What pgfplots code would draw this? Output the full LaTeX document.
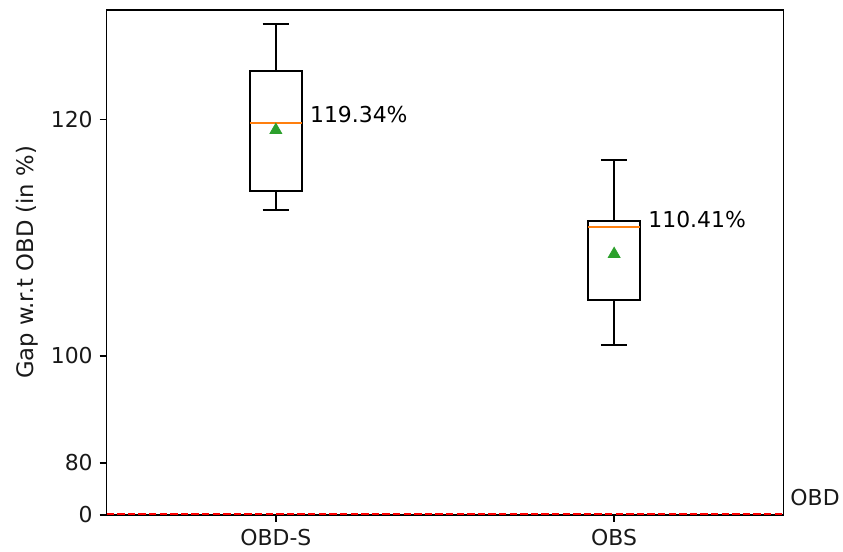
\documentclass[border=0pt]{standalone}
\usepackage{fontspec}
\setmainfont{DejaVu Sans}
\usepackage{pgfplots}
\pgfplotsset{compat=1.18}
\usepgfplotslibrary{statistics}
\usetikzlibrary{calc}

\definecolor{mplorange}{HTML}{FF7F0E}
\definecolor{mplgreen}{HTML}{2CA02C}

\begin{document}
\begin{tikzpicture}
	\begin{axis}[
			name=ax,
			scale only axis,
			width=338.3bp, height=252.5bp,
			xmin=0.5, xmax=2.5,
			ymin=0, ymax=126.0,
			clip mode=individual,
			% power-5 scale of the y axis
			y coord trafo/.code={\pgfmathparse{(#1/100)^5}},
			xtick={1,2}, xticklabels={OBD-S,OBS},
			ytick={0,80,100,120}, yticklabels={0,80,100,120},
			tick align=outside, tick pos=left,
			major tick length=3.5bp,
			tick style={black, line width=0.8bp},
			axis line style={line width=0.8bp},
			tick label style={font=\fontsize{11}{13}\selectfont, text=black!90},
			ylabel={Gap w.r.t OBD (in \%)},
			ylabel style={font=\fontsize{11.4}{13}\selectfont, text=black!90, at={(rel axis cs:-0.1178,0.5)}, anchor=center},
			boxplot/draw direction=y,
			boxplot/box extend=0.153,
			boxplot/whisker extend=0.078,
			boxplot/every median/.style={draw=mplorange, line width=1bp},
			boxplot/draw/average/.code={},
		]

		% OBD-S
		\addplot[black, line width=1bp, boxplot prepared={
				draw position=1,
				lower whisker=113.9, lower quartile=115.3,
				median=119.8, average=119.34,
				upper quartile=122.8, upper whisker=125.3
			}] coordinates {};

		% OBS
		\addplot[black, line width=1bp, boxplot prepared={
				draw position=2,
				lower whisker=101.3, lower quartile=106.2,
				median=112.6, average=110.41,
				upper quartile=113.1, upper whisker=117.4
			}] coordinates {};

		% means
		\addplot[only marks, mark=triangle*, mark size=3.4bp, mplgreen] coordinates {(1,119.34) (2,110.41)};

		% OBD reference
		\addplot[red, line width=1.6bp, dash pattern=on 3.7bp off 1.6bp] coordinates {(0.5,0) (2.5,0)};

		\node[anchor=base west, inner sep=0pt, font=\fontsize{11}{13}\selectfont] at (axis cs:1.1,119.8) {119.34\%};
		\node[anchor=base west, inner sep=0pt, font=\fontsize{11}{13}\selectfont] at (axis cs:2.1,112.6) {110.41\%};
		\node[anchor=base west, inner sep=0pt, font=\fontsize{11}{13}\selectfont, text=black!90] at (axis cs:2.52,57) {OBD};
	\end{axis}
	\pgfresetboundingbox
	\path[use as bounding box] ([xshift=-53.35bp,yshift=-18.5bp]ax.south west) rectangle ([xshift=29.85bp,yshift=5bp]ax.north east);
\end{tikzpicture}
\end{document}
